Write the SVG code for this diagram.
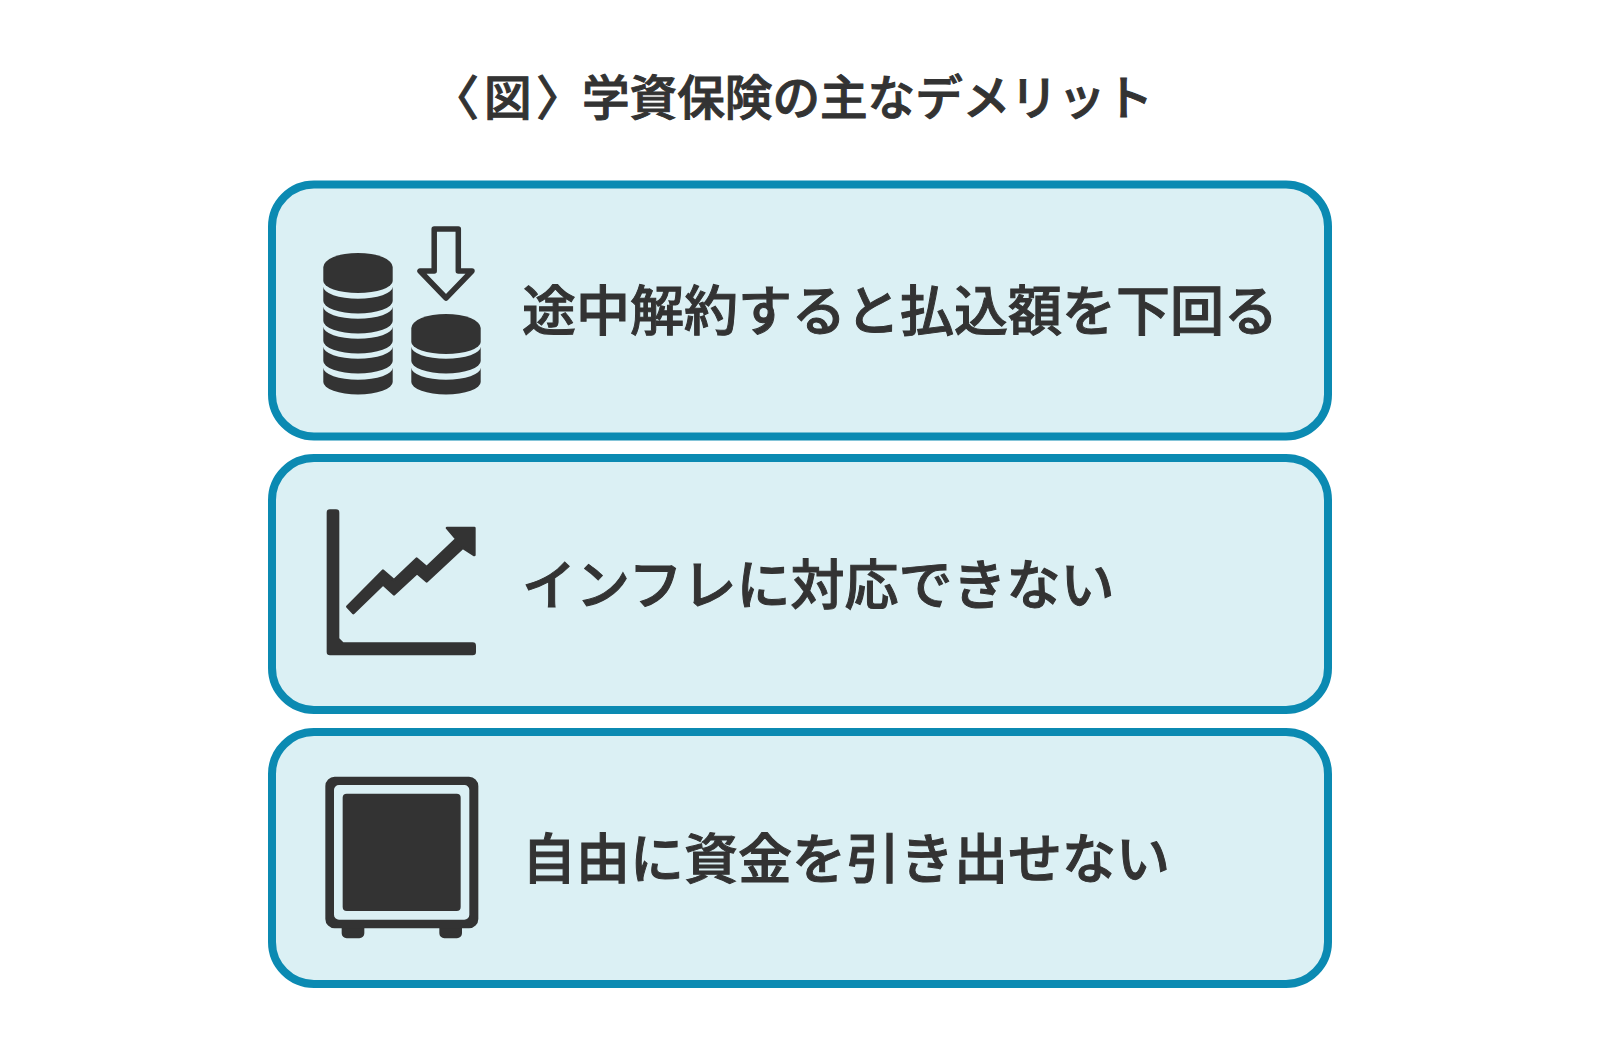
<svg xmlns="http://www.w3.org/2000/svg" width="1600" height="1061" viewBox="0 0 1600 1061">
<style>
.box{fill:#dbf0f4;stroke:#0b8ab2;stroke-width:8}
.t{font-family:"Noto Sans CJK JP","Noto Sans",sans-serif;font-weight:500;fill:#333;font-size:54px;stroke:#333;stroke-width:1px}
.title{font-size:47.600px}
.i{fill:#333}
</style>
<defs>
<path id="top" d="M323.300 267A34.700 14 0 0 1 392.700 267V281A34.700 12 0 0 1 323.300 281Z"/>
<path id="layer" d="M323.300 286.700A34.700 12 0 0 0 392.700 286.700V301A34.700 12.500 0 0 1 323.300 301Z"/>
</defs>
<rect width="1600" height="1061" fill="#fff"/>
<g id="title"><text class="t title" y="115"><tspan x="431.500">〈</tspan><tspan x="484">図</tspan><tspan x="536">〉</tspan><tspan x="582">学資保険の主なデメリット</tspan></text></g>
<g id="node1">
<rect class="box" x="272" y="184.500" width="1056" height="252" rx="42"/>
<g class="i">
<use href="#top"/><use href="#layer"/><use href="#layer" y="20"/><use href="#layer" y="40"/><use href="#layer" y="60"/><use href="#layer" y="81"/>
<use href="#top" x="88" y="61"/><use href="#layer" x="88" y="60"/><use href="#layer" x="88" y="81"/>
</g>
<path d="M434.200 229H458.300V271H472L446 298 420 271H434.200Z" fill="none" stroke="#333" stroke-width="5.500" stroke-linejoin="round"/>
<text class="t" x="522" y="331">途中解約すると払込額を下回る</text>
</g>
<g id="node2">
<rect class="box" x="272" y="458" width="1056" height="252" rx="42"/>
<g transform="translate(270 480) scale(.33333)">
<path class="i" d="M180 88H198A10 10 0 0 1 208 98V475L220 487H608A10 10 0 0 1 618 497V516A10 10 0 0 1 608 526H180A10 10 0 0 1 170 516V98A10 10 0 0 1 180 88Z"/>
<path class="i" stroke="#333" stroke-width="8" stroke-linejoin="round" d="M531 144H613V225L578 203 470 304 441 279 372 343 339 313 250 399 232 380 339 272 372 301 440 236 470 262 559 177Z"/>
</g>
<text class="t" x="522" y="605">インフレに対応できない</text>
</g>
<g id="node3">
<rect class="box" x="272" y="732" width="1056" height="252" rx="42"/>
<g transform="translate(270 745) scale(.33333)">
<path class="i" d="M215 540H283V565A15 15 0 0 1 268 580H230A15 15 0 0 1 215 565ZM508 540H576V565A15 15 0 0 1 561 580H523A15 15 0 0 1 508 565Z"/>
<path class="i" fill-rule="evenodd" d="M194 95H597A28 28 0 0 1 625 123V522A28 28 0 0 1 597 550H194A28 28 0 0 1 166 522V123A28 28 0 0 1 194 95ZM207 120A15 15 0 0 0 192 135V509A15 15 0 0 0 207 524H583A15 15 0 0 0 598 509V135A15 15 0 0 0 583 120Z"/>
<rect class="i" x="218" y="146" width="354" height="352" rx="12"/>
</g>
<text class="t" x="522" y="879">自由に資金を引き出せない</text>
</g>
<g id="connectors"></g>
</svg>
